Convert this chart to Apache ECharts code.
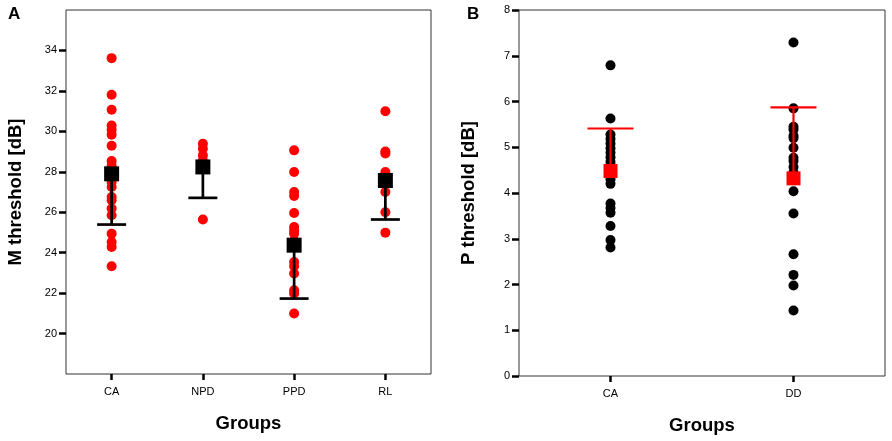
<!DOCTYPE html>
<html>
<head>
<meta charset="utf-8">
<script src="https://cdn.jsdelivr.net/npm/echarts@6/dist/echarts.min.js"></script>
<style>
  html, body { margin: 0; padding: 0; background: #fff; }
  #chart { width: 892px; height: 441px; }
</style>
</head>
<body>
<div id="chart"></div>
<script>
// panel A: M threshold per group
var groupsA = ['CA', 'NPD', 'PPD', 'RL'];
var caM = [33.62, 31.81, 31.07, 30.29, 30.08, 29.83, 29.29, 28.53, 28.3, 28.0, 27.7, 27.5, 27.25, 26.75, 26.59, 26.18, 25.85, 24.94, 24.53, 24.28, 23.33];
var npdM = [29.39, 29.14, 28.81, 28.55, 28.3, 25.64];
var ppdM = [29.06, 27.99, 27.0, 26.8, 25.96, 25.27, 25.1, 24.94, 24.6, 23.54, 23.33, 22.97, 22.14, 21.98, 20.99];
var rlM = [30.99, 29.0, 28.9, 27.99, 27.8, 27.0, 26.0, 24.99];
var meanA = [27.9, 28.24, 24.37, 27.57];
var lowerA = [25.39, 26.71, 21.73, 25.64];
var ticksA = [20, 22, 24, 26, 28, 30, 32, 34];

// panel B: P threshold per group
var groupsB = ['CA', 'DD'];
var caP = [6.79, 5.63, 5.28, 5.18, 5.08, 4.98, 4.88, 4.78, 4.68, 4.6, 4.3, 4.2, 3.77, 3.67, 3.57, 3.28, 2.97, 2.81];
var ddP = [7.29, 5.85, 5.45, 5.39, 5.25, 5.2, 4.99, 4.77, 4.7, 4.57, 4.45, 4.04, 3.55, 2.66, 2.21, 1.98, 1.43];
var meanB = [4.48, 4.32];
var upperB = [5.41, 5.87];

var FONT = 'Arial, "Liberation Sans", sans-serif';

function points(groups, lists) {
    var out = [];
    lists.forEach(function (vals, i) {
        vals.forEach(function (v) { out.push([groups[i], v]); });
    });
    return out;
}

// one-sided error bar: stem from mean to bound, cap at the bound
function errorBar(capW, color, lw) {
    return function (params, api) {
        var x = api.value(0);
        var p0 = api.coord([x, api.value(1)]);
        var p1 = api.coord([x, api.value(2)]);
        return {
            type: 'group',
            children: [
                { type: 'line', shape: { x1: p0[0], y1: p0[1], x2: p1[0], y2: p1[1] }, style: { stroke: color, lineWidth: lw } },
                { type: 'line', shape: { x1: p1[0] - capW / 2, y1: p1[1], x2: p1[0] + capW / 2, y2: p1[1] }, style: { stroke: color, lineWidth: lw } }
            ]
        };
    };
}

function xAxisOf(idx, groups) {
    return {
        type: 'category', gridIndex: idx, data: groups,
        axisLine: { show: false },
        axisTick: { show: true, alignWithLabel: true, length: 6, lineStyle: { color: '#000', width: 2.5 } },
        axisLabel: { color: '#000', fontSize: 11, fontFamily: FONT, margin: 12 },
        name: 'Groups', nameLocation: 'middle', nameGap: 40,
        nameTextStyle: { fontSize: 18.5, fontWeight: 'bold', color: '#000', fontFamily: FONT }
    };
}

var chart = echarts.init(document.getElementById('chart'));

chart.setOption({
    animation: false,
    graphic: [
        { type: 'text', left: 8, top: 6, style: { text: 'A', font: 'bold 17px ' + FONT, fill: '#000' } },
        { type: 'text', left: 467, top: 6, style: { text: 'B', font: 'bold 17px ' + FONT, fill: '#000' } }
    ],
    grid: [
        { left: 66, right: 461, top: 10, bottom: 67, show: true, borderColor: '#333', borderWidth: 1 },
        { left: 519, right: 7, top: 10, bottom: 65, show: true, borderColor: '#333', borderWidth: 1 }
    ],
    xAxis: [xAxisOf(0, groupsA), xAxisOf(1, groupsB)],
    yAxis: [
        {
            type: 'value', gridIndex: 0, min: 18, max: 36, interval: 2,
            splitLine: { show: false },
            axisLine: { show: false },
            axisTick: { show: true, length: 7, customValues: ticksA, lineStyle: { color: '#000', width: 2.5 } },
            axisLabel: { color: '#000', fontSize: 11, fontFamily: FONT, margin: 9, customValues: ticksA },
            name: 'M threshold [dB]', nameLocation: 'middle', nameGap: 41,
            nameTextStyle: { fontSize: 18.5, fontWeight: 'bold', color: '#000', fontFamily: FONT }
        },
        {
            type: 'value', gridIndex: 1, min: 0, max: 8, interval: 1,
            splitLine: { show: false },
            axisLine: { show: false },
            axisTick: { show: true, length: 7, lineStyle: { color: '#000', width: 2.5 } },
            axisLabel: { color: '#000', fontSize: 11, fontFamily: FONT, margin: 9 },
            name: 'P threshold [dB]', nameLocation: 'middle', nameGap: 41,
            nameTextStyle: { fontSize: 18.5, fontWeight: 'bold', color: '#000', fontFamily: FONT }
        }
    ],
    series: [
        {
            type: 'scatter', xAxisIndex: 0, yAxisIndex: 0, z: 2,
            symbolSize: 10, itemStyle: { color: '#ff0000', opacity: 1 },
            data: points(groupsA, [caM, npdM, ppdM, rlM])
        },
        {
            type: 'custom', xAxisIndex: 0, yAxisIndex: 0, z: 3,
            renderItem: errorBar(29, '#000', 2.7),
            encode: { x: 0, y: [1, 2] },
            data: meanA.map(function (m, i) { return [i, m, lowerA[i]]; })
        },
        {
            type: 'scatter', xAxisIndex: 0, yAxisIndex: 0, z: 4,
            symbol: 'rect', symbolSize: 15, itemStyle: { color: '#000', opacity: 1 },
            data: meanA.map(function (m, i) { return [groupsA[i], m]; })
        },
        {
            type: 'scatter', xAxisIndex: 1, yAxisIndex: 1, z: 2,
            symbolSize: 10, itemStyle: { color: '#000', opacity: 1 },
            data: points(groupsB, [caP, ddP])
        },
        {
            type: 'custom', xAxisIndex: 1, yAxisIndex: 1, z: 3,
            renderItem: errorBar(46, '#ff0000', 2.2),
            encode: { x: 0, y: [1, 2] },
            data: meanB.map(function (m, i) { return [i, m, upperB[i]]; })
        },
        {
            type: 'scatter', xAxisIndex: 1, yAxisIndex: 1, z: 4,
            symbol: 'rect', symbolSize: 14, itemStyle: { color: '#ff0000', opacity: 1 },
            data: meanB.map(function (m, i) { return [groupsB[i], m]; })
        }
    ]
});
</script>
</body>
</html>
